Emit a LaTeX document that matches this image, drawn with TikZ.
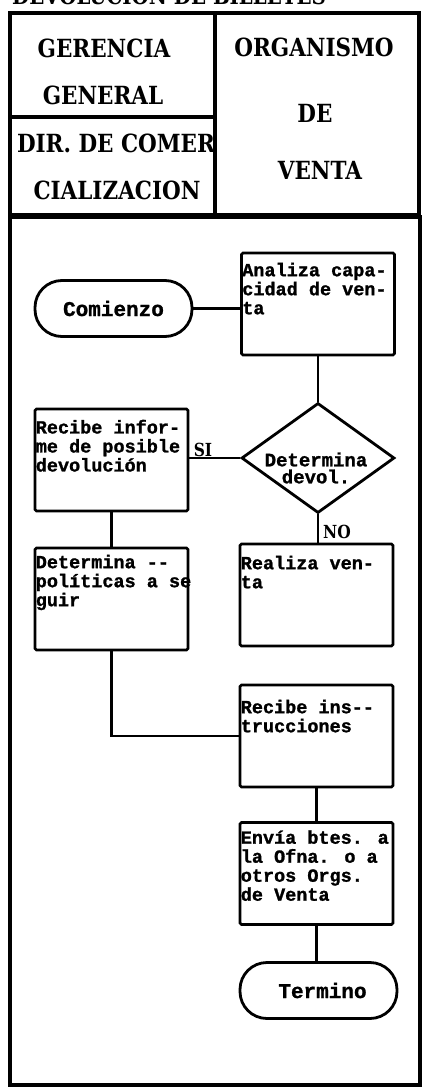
\documentclass[tikz,border=0pt]{standalone}
\usepackage{fontspec}
\setmainfont{DejaVu Serif}
\newfontfamily\hfont[FakeStretch=0.86]{DejaVu Serif}
\newfontfamily\bfont[FakeBold=1.2]{Liberation Mono}
\usetikzlibrary{shapes.geometric}
\begin{document}
\begin{tikzpicture}[x=1pt,y=-1pt,
  frame/.style={line width=3.4pt},
  hd/.style={font=\fontsize{25}{25}\hfont\bfseries, inner sep=0pt},
  proc/.style={draw, line width=2.8pt, rectangle, rounded corners=1.5pt, minimum width=153pt, minimum height=102pt, inner sep=0pt},
  term/.style={draw, line width=2.8pt, rounded corners=27pt, minimum width=157pt, minimum height=56pt, font=\fontsize{21}{21}\bfont\bfseries},
  dec/.style={draw, diamond, line width=2.8pt, minimum width=153pt, minimum height=110pt, inner sep=0pt},
  txt/.style={font=\fontsize{18.5}{19}\bfont\bfseries, align=left, inner sep=0pt, anchor=north west},
  conn/.style={line width=2.8pt},
  lab/.style={font=\fontsize{18}{19}\hfont\bfseries, inner sep=0pt}
]
\useasboundingbox (0,0) rectangle (423,1089);
\clip (0,0) rectangle (423,1089);
\fill[white] (0,0) rectangle (423,1089);

% title (cut off at the top edge, as in the reference)
\node[font=\fontsize{23}{23}\hfont\bfseries, anchor=base west, inner sep=0pt] (title) at (12,5) {DEVOLUCION DE BILLETES};

% header frame
\draw[frame] (10,13) rectangle (419,215);
\draw[frame] (215,13) -- (215,215);
\draw[frame] (10,117) -- (215,117);
% body frame
\draw[frame] (10,217) rectangle (420,1085);

% header texts
\node[hd] (h1) at (104,48) {GERENCIA};
\node[hd] (h2) at (103,95) {GENERAL};
\node[hd] (h3) at (116,143) {DIR. DE COMER};
\node[hd] (h4) at (117,190) {CIALIZACION};
\node[hd] (h5) at (314,47) {ORGANISMO};
\node[hd] (h6) at (315,113) {DE};
\node[hd] (h7) at (320,170) {VENTA};

% flowchart
\node[term] (com) at (113.5,308.5) {Comienzo};
\node[proc] (ana) at (318,304) {};
\node[txt] at ([shift={(2,11)}]ana.north west) {Analiza capa-\\cidad de ven-\\ta};
\node[dec] (dec) at (318,458) {};
\node[txt, align=center, anchor=center, font=\fontsize{19}{17}\bfont\bfseries] (dect) at (316,468) {Determina\\devol.};
\node[proc] (rinf) at (111.5,460) {};
\node[txt] at ([shift={(2,12)}]rinf.north west) {Recibe infor-\\me de posible\\devolución};
\node[proc] (det) at (111.5,599) {};
\node[txt] at ([shift={(2,8)}]det.north west) {Determina --\\políticas a se\\guir};
\node[proc] (real) at (316.5,595) {};
\node[txt] at ([shift={(2,13)}]real.north west) {Realiza ven-\\ta};
\node[proc] (rins) at (316.5,736) {};
\node[txt] at ([shift={(2,16)}]rins.north west) {Recibe ins--\\trucciones};
\node[proc] (env) at (316.5,873.5) {};
\node[txt] at ([shift={(2,9)}]env.north west) {Envía btes. a\\la Ofna. o a\\otros Orgs.\\de Venta};
\node[term] (fin) at (318.5,990.5) {\hspace*{8pt}Termino};

\node[lab] (si) at (203,450) {SI};
\node[lab] (no) at (337,532) {NO};

% connectors
\draw[conn] (com.east) -- (com.east -| ana.west);
\draw[conn] (ana.south) -- (dec.north);
\draw[conn] (dec.west) -- (dec.west -| rinf.east);
\draw[conn] (dec.south) -- (dec.south |- real.north);
\draw[conn] (rinf.south) -- (det.north);
\draw[conn] (det.south) |- (rins.west);
\draw[conn] (rins.south) -- (env.north);
\draw[conn] (env.south) -- (env.south |- fin.north);
\end{tikzpicture}
\end{document}
